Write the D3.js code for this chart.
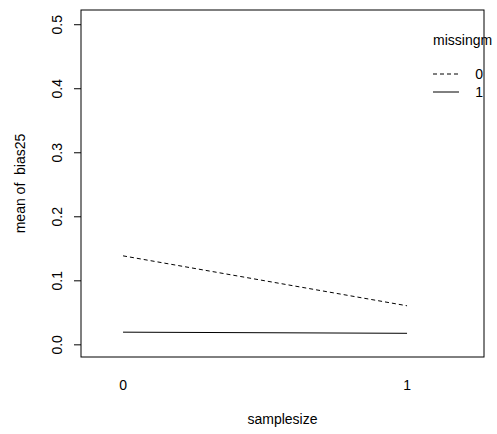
<!DOCTYPE html>
<html>
<head>
<meta charset="utf-8">
<script src="https://cdn.jsdelivr.net/npm/d3@7"></script>
<style>
  body { margin: 0; background: #fff; }
  text { font-family: "Liberation Sans", Arial, sans-serif; font-size: 14px; fill: #000; white-space: pre; }
</style>
</head>
<body>
<div id="chart"></div>
<script>
// interaction plot: mean of bias25 by samplesize, one trace per missingm level
var sampleSizes = [0, 1];
var traceNames = ["0", "1"];
var traceValues = [
    [0.139, 0.061],
    [0.0198, 0.018]
];
var yTicks = [0.0, 0.1, 0.2, 0.3, 0.4, 0.5];

var width = 497, height = 434;
var box = { left: 81, right: 484, top: 10, bottom: 357 };

var svg = d3.select("#chart").append("svg")
    .attr("width", width).attr("height", height);

var x = d3.scaleLinear().domain([-0.148, 1.271]).range([box.left, box.right]);
var y = d3.scaleLinear().domain([-0.019, 0.523]).range([box.bottom, box.top]);

// frame
svg.append("rect")
    .attr("x", box.left).attr("y", box.top)
    .attr("width", box.right - box.left).attr("height", box.bottom - box.top)
    .attr("fill", "none").attr("stroke", "#000").attr("stroke-width", 1);

// y axis, rotated labels like R's default las=0
var yAxis = svg.append("g").attr("transform", "translate(" + box.left + ",0)");
yAxis.selectAll(".tick").data(yTicks).enter().append("line")
    .attr("x1", 0).attr("x2", -7)
    .attr("y1", function (d) { return y(d); }).attr("y2", function (d) { return y(d); })
    .attr("stroke", "#000");
yAxis.selectAll(".lbl").data(yTicks).enter().append("text")
    .attr("transform", function (d) { return "translate(-19," + y(d) + ") rotate(-90)"; })
    .attr("text-anchor", "middle")
    .text(function (d) { return d.toFixed(1); });

// x labels (no tick marks)
svg.selectAll(".xl").data(sampleSizes).enter().append("text")
    .attr("x", function (d) { return x(d); })
    .attr("y", 390)
    .attr("text-anchor", "middle")
    .text(function (d) { return d; });

// titles
svg.append("text")
    .attr("x", (box.left + box.right) / 2).attr("y", 424)
    .attr("text-anchor", "middle")
    .text("samplesize");
svg.append("text")
    .attr("transform", "translate(25," + ((box.top + box.bottom) / 2) + ") rotate(-90)")
    .attr("text-anchor", "middle")
    .text("mean of  bias25");

// traces
var dashes = ["4,3", null];
var line = d3.line()
    .x(function (d, i) { return x(sampleSizes[i]); })
    .y(function (d) { return y(d); });

svg.selectAll(".trace").data(traceValues).enter().append("path")
    .attr("d", line)
    .attr("fill", "none")
    .attr("stroke", "#000")
    .attr("stroke-width", 1)
    .attr("stroke-dasharray", function (d, i) { return dashes[i]; });

// legend
var lg = svg.append("g").attr("transform", "translate(433,0)");
lg.append("text").attr("x", 0).attr("y", 45).text("missingm");
traceNames.forEach(function (name, i) {
    var ly = 74 + i * 18;
    lg.append("line")
        .attr("x1", 0).attr("x2", 26)
        .attr("y1", ly).attr("y2", ly)
        .attr("stroke", "#000")
        .attr("stroke-dasharray", dashes[i]);
    lg.append("text")
        .attr("x", 50).attr("y", ly + 5)
        .attr("text-anchor", "end")
        .text(name);
});
</script>
</body>
</html>
